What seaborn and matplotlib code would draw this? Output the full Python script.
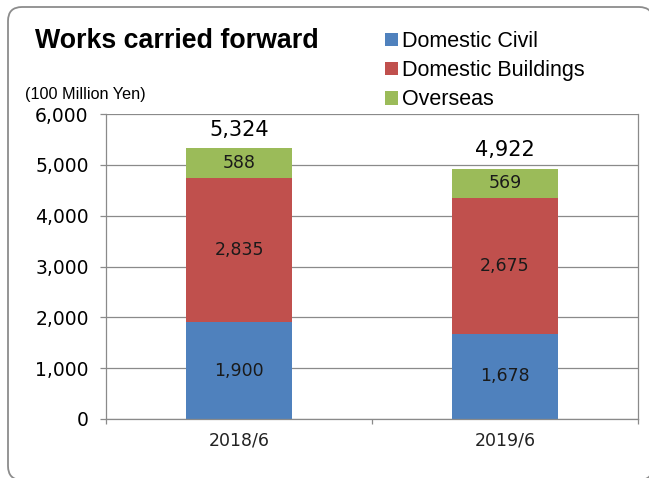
import matplotlib
matplotlib.use("Agg")
import matplotlib.pyplot as plt
from matplotlib.patches import FancyBboxPatch, Patch
import pandas as pd
import seaborn as sns

periods = ["2018/6", "2019/6"]
domestic_civil = [1900, 1678]
domestic_buildings = [2835, 2675]
overseas = [588, 569]
totals = [5324, 4922]
series_names = ["Domestic Civil", "Domestic Buildings", "Overseas"]
colors = ["#4F81BD", "#C0504D", "#9BBB59"]

sns.set_style("white")
plt.rcParams["font.family"] = ["Liberation Sans", "DejaVu Sans"]
plt.rcParams["text.color"] = "black"
plt.rcParams["xtick.color"] = "black"
plt.rcParams["ytick.color"] = "black"

df = pd.DataFrame({"period": periods, "civil": domestic_civil,
                   "buildings": domestic_buildings, "overseas": overseas})
df["cum2"] = df["civil"] + df["buildings"]
df["cum3"] = df["cum2"] + df["overseas"]

W, H = 649, 478
fig = plt.figure(figsize=(W / 100, H / 100), dpi=100)

# rounded frame round the whole chart
bg = fig.add_axes([0, 0, 1, 1], zorder=-1)
bg.set_xlim(0, W)
bg.set_ylim(H, 0)
bg.axis("off")
bg.add_patch(FancyBboxPatch((8, 7), 645, 473, boxstyle="round,pad=0,rounding_size=14",
                            fc="white", ec="#8c8c8c", lw=1.3))

ax = fig.add_axes([106 / W, (H - 419) / H, 532 / W, 305 / H])
gray = "#8a8a8a"
num_font = "DejaVu Sans"

# stacked bars drawn as layered cumulative bars
for col, c in zip(["cum3", "cum2", "civil"], colors[::-1]):
    sns.barplot(data=df, x="period", y=col, color=c, width=0.4, ax=ax,
                saturation=1, edgecolor="none", zorder=2)

ax.set_ylim(0, 6000)
ax.set_xlim(-0.5, 1.5)
ax.set_yticks(range(0, 6001, 1000))
ax.set_yticklabels([f"{v:,}" for v in range(0, 6001, 1000)], fontsize=13.5, family=num_font)
ax.set_xticklabels(periods, fontsize=12.5, family=num_font, color="#222222")
ax.set_xlabel("")
ax.set_ylabel("")
ax.grid(axis="y", color=gray, lw=0.9, zorder=0)
ax.set_axisbelow(True)
for s in ax.spines.values():
    s.set_visible(True)
    s.set_color(gray)
    s.set_linewidth(0.9)
ax.spines["top"].set_visible(False)
ax.tick_params(axis="y", length=4.5, color=gray, labelcolor="black", width=0.9, pad=8, left=True)
ax.tick_params(axis="x", which="major", length=0, pad=9)
ax.set_xticks([-0.5, 0.5, 1.5], minor=True)
ax.tick_params(axis="x", which="minor", length=3.5, color=gray, width=0.9, bottom=True)

# segment labels
for i in range(len(periods)):
    base = 0
    for vals in [domestic_civil, domestic_buildings, overseas]:
        v = vals[i]
        ax.text(i, base + v / 2, f"{v:,}", ha="center", va="center",
                fontsize=12.5, family=num_font, color="#1a1a1a", zorder=5)
        base += v
    ax.text(i, totals[i] + 370, f"{totals[i]:,}", ha="center", va="center",
            fontsize=15, family=num_font, fontweight="medium", color="black", zorder=5)

fig.text(35 / W, (H - 48) / H, "Works carried forward", fontsize=19.3,
         fontweight="bold", va="baseline", ha="left", color="black")
fig.text(25 / W, (H - 99) / H, "(100 Million Yen)", fontsize=11.7,
         va="baseline", ha="left", color="black")

handles = [Patch(facecolor=c, edgecolor="none") for c in colors]
fig.legend(handles, series_names, loc="upper left", bbox_to_anchor=(385 / W, (H - 31) / H),
           frameon=False, fontsize=15.5, handlelength=0.6, handleheight=0.6,
           handletextpad=0.18, labelspacing=0.38, borderaxespad=0, borderpad=0,
           labelcolor="black")

fig.savefig("out.png", dpi=100)
